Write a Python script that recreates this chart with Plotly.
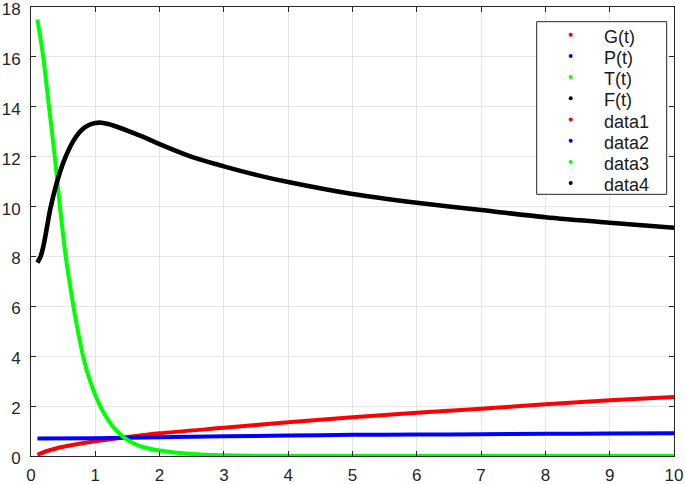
import plotly.graph_objects as go

# ---- data ----
t_G = [0.1, 0.25, 0.5, 0.75, 1.0, 1.5, 2.0, 3.0, 4.0, 5.0, 6.0, 7.0, 8.0, 9.0, 10.0]
G = [0.05, 0.2, 0.37, 0.49, 0.59, 0.76, 0.91, 1.13, 1.35, 1.55, 1.73, 1.89, 2.07, 2.23, 2.37]

t_P = [0.1, 1.0, 2.0, 3.0, 4.0, 5.0, 6.0, 7.0, 8.0, 9.0, 10.0]
P = [0.70, 0.71, 0.75, 0.79, 0.82, 0.85, 0.86, 0.87, 0.89, 0.90, 0.91]

t_T = [0.1, 0.19, 0.28, 0.37, 0.45, 0.54, 0.66, 0.73, 0.81, 0.9, 1.0, 1.1, 1.2, 1.3, 1.46, 1.6, 1.75, 2.0, 2.5, 3.0, 4.0, 5.0, 6.0, 7.0, 8.0, 9.0, 10.0]
T = [17.5, 16.0, 14.0, 12.0, 10.0, 8.0, 6.0, 5.0, 4.0, 3.15, 2.45, 1.88, 1.45, 1.1, 0.72, 0.5, 0.35, 0.22, 0.08, 0.03, 0.005, 0.0, 0.0, 0.0, 0.0, 0.0, 0.0]

t_F = [0.1, 0.15, 0.2, 0.25, 0.3, 0.4, 0.5, 0.6, 0.7, 0.8, 0.9, 1.0, 1.1, 1.2, 1.4, 1.6, 1.8, 2.0, 2.5, 3.0, 3.5, 4.0, 5.0, 6.0, 7.0, 8.0, 9.0, 10.0]
F = [7.75, 8.0, 8.5, 9.2, 9.9, 10.95, 11.75, 12.35, 12.8, 13.1, 13.27, 13.35, 13.36, 13.31, 13.14, 12.94, 12.73, 12.5, 11.99, 11.61, 11.27, 10.98, 10.5, 10.15, 9.86, 9.57, 9.35, 9.15]

legend_names = ["G(t)", "P(t)", "T(t)", "F(t)", "data1", "data2", "data3", "data4"]
colors = ["#ff0000", "#0000ff", "#00ff00", "#000000"]

x_ticks = [0, 1, 2, 3, 4, 5, 6, 7, 8, 9, 10]
y_ticks = [0, 2, 4, 6, 8, 10, 12, 14, 16, 18]

FONT = "Liberation Sans, Arial, Helvetica, sans-serif"
AX = "#262626"

fig = go.Figure()
series = [(t_G, G), (t_P, P), (t_T, T), (t_F, F)]
widths = [4, 4, 4, 4.6]
for (xs, ys), c, w, nm in zip(series, colors, widths, legend_names):
    fig.add_trace(go.Scatter(x=xs, y=ys, mode="lines", name=nm,
                             line=dict(color=c, width=w, shape="spline", smoothing=0.8),
                             showlegend=False))

axis_common = dict(
    showgrid=True, gridcolor="#e5e5e5", gridwidth=1,
    showline=True, linecolor=AX, linewidth=1, mirror="allticks",
    ticks="inside", ticklen=5, tickwidth=1, tickcolor=AX,
    zeroline=False, tickfont=dict(family=FONT, size=17, color=AX),
    ticklabeloverflow="allow",
)

# ---- MATLAB-style legend box (text entries + dot markers) ----
W, H, L, B = 643, 449, 31, 28
def px_to_paper_x(px):
    return (px - L) / W
def py_to_paper_y(py):
    return (484 - B - py) / H

shapes = [dict(type="rect", xref="paper", yref="paper",
               x0=px_to_paper_x(536.7), x1=px_to_paper_x(666.7),
               y0=py_to_paper_y(194.3), y1=py_to_paper_y(21.7),
               fillcolor="white", line=dict(color=AX, width=1), layer="above")]
annotations = []
for i, name in enumerate(legend_names):
    yc = 36.7 + i * 21.2
    annotations.append(dict(xref="paper", yref="paper", x=px_to_paper_x(601.5), y=py_to_paper_y(yc),
                            xanchor="left", yanchor="middle", showarrow=False, text=name,
                            font=dict(family=FONT, size=18, color="#1a1a1a")))
    shapes.append(dict(type="circle", xref="paper", yref="paper",
                       xsizemode="pixel", ysizemode="pixel",
                       xanchor=px_to_paper_x(570.7), yanchor=py_to_paper_y(yc - 2),
                       x0=-2, x1=2, y0=-2, y1=2,
                       fillcolor=colors[i % 4], line=dict(width=0), layer="above"))

fig.update_layout(
    width=685, height=484,
    margin=dict(l=L, r=685 - L - W, t=484 - B - H, b=B, autoexpand=False),
    paper_bgcolor="white", plot_bgcolor="white",
    font=dict(family=FONT, color=AX),
    showlegend=False,
    xaxis=dict(range=[0, 10], tickvals=x_ticks, ticktext=[str(v) for v in x_ticks],
               ticklabelstandoff=4, **axis_common),
    yaxis=dict(range=[0, 18], tickvals=y_ticks, ticktext=[str(v) for v in y_ticks],
               ticklabelstandoff=6, ticklabelshift=2, **axis_common),
    shapes=shapes,
    annotations=annotations,
)

fig.write_html("out.html", config={"displayModeBar": False},
               post_script="document.body.style.margin='0';")
